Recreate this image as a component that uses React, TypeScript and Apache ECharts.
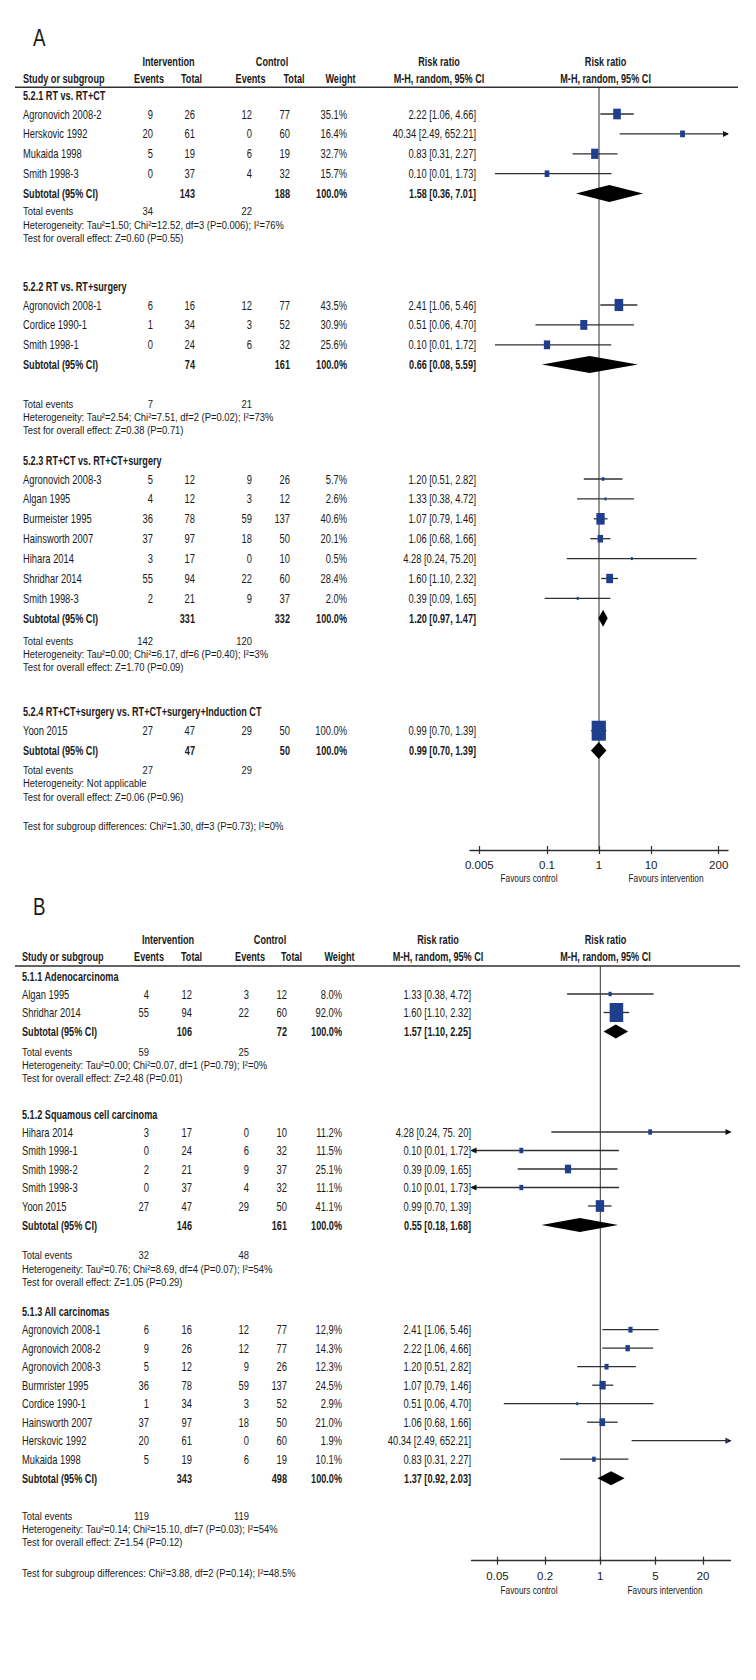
import React, { useEffect, useRef } from "react";
import * as echarts from "echarts";

const FONT = "'Liberation Sans', Arial, sans-serif";
const INK = "#1a1a1a";
const BLUE = "#1f3e8e";
const LINE = "#303030";

// ---------------- Panel A data ----------------
const A_groupTitles = [
  "5.2.1 RT vs. RT+CT",
  "5.2.2 RT vs. RT+surgery",
  "5.2.3 RT+CT vs. RT+CT+surgery",
  "5.2.4 RT+CT+surgery vs. RT+CT+surgery+Induction CT",
];
const A_studyGroup = [0, 0, 0, 0, 1, 1, 1, 2, 2, 2, 2, 2, 2, 2, 3];
const A_studies = [
  "Agronovich 2008-2", "Herskovic 1992", "Mukaida 1998", "Smith 1998-3",
  "Agronovich 2008-1", "Cordice 1990-1", "Smith 1998-1",
  "Agronovich 2008-3", "Algan 1995", "Burmeister 1995", "Hainsworth 2007", "Hihara 2014", "Shridhar 2014", "Smith 1998-3",
  "Yoon 2015",
];
const A_intEvents = [9, 20, 5, 0, 6, 1, 0, 5, 4, 36, 37, 3, 55, 2, 27];
const A_intTotal = [26, 61, 19, 37, 16, 34, 24, 12, 12, 78, 97, 17, 94, 21, 47];
const A_ctlEvents = [12, 0, 6, 4, 12, 3, 6, 9, 3, 59, 18, 0, 22, 9, 29];
const A_ctlTotal = [77, 60, 19, 32, 77, 52, 32, 26, 12, 137, 50, 10, 60, 37, 50];
const A_weight = ["35.1%", "16.4%", "32.7%", "15.7%", "43.5%", "30.9%", "25.6%", "5.7%", "2.6%", "40.6%", "20.1%", "0.5%", "28.4%", "2.0%", "100.0%"];
const A_rr = [2.22, 40.34, 0.83, 0.10, 2.41, 0.51, 0.10, 1.20, 1.33, 1.07, 1.06, 4.28, 1.60, 0.39, 0.99];
const A_lo = [1.06, 2.49, 0.31, 0.01, 1.06, 0.06, 0.01, 0.51, 0.38, 0.79, 0.68, 0.24, 1.10, 0.09, 0.70];
const A_hi = [4.66, 652.21, 2.27, 1.73, 5.46, 4.70, 1.72, 2.82, 4.72, 1.46, 1.66, 75.20, 2.32, 1.65, 1.39];
const A_ciText = [
  "2.22 [1.06, 4.66]", "40.34 [2.49, 652.21]", "0.83 [0.31, 2.27]", "0.10 [0.01, 1.73]",
  "2.41 [1.06, 5.46]", "0.51 [0.06, 4.70]", "0.10 [0.01, 1.72]",
  "1.20 [0.51, 2.82]", "1.33 [0.38, 4.72]", "1.07 [0.79, 1.46]", "1.06 [0.68, 1.66]", "4.28 [0.24, 75.20]", "1.60 [1.10, 2.32]", "0.39 [0.09, 1.65]",
  "0.99 [0.70, 1.39]",
];
const A_subIntTotal = [143, 74, 331, 47];
const A_subCtlTotal = [188, 161, 332, 50];
const A_subRR = [1.58, 0.66, 1.20, 0.99];
const A_subLo = [0.36, 0.08, 0.97, 0.70];
const A_subHi = [7.01, 5.59, 1.47, 1.39];
const A_subText = ["1.58 [0.36, 7.01]", "0.66 [0.08, 5.59]", "1.20 [0.97, 1.47]", "0.99 [0.70, 1.39]"];
const A_totIntEvents = [34, 7, 142, 27];
const A_totCtlEvents = [22, 21, 120, 29];
const A_het = [
  "Heterogeneity: Tau²=1.50; Chi²=12.52, df=3 (P=0.006); I²=76%",
  "Heterogeneity: Tau²=2.54; Chi²=7.51, df=2 (P=0.02); I²=73%",
  "Heterogeneity: Tau²=0.00; Chi²=6.17, df=6 (P=0.40); I²=3%",
  "Heterogeneity: Not applicable",
];
const A_overall = [
  "Test for overall effect: Z=0.60 (P=0.55)",
  "Test for overall effect: Z=0.38 (P=0.71)",
  "Test for overall effect: Z=1.70 (P=0.09)",
  "Test for overall effect: Z=0.06 (P=0.96)",
];
const A_subgroupDiff = "Test for subgroup differences: Chi²=1.30, df=3 (P=0.73); I²=0%";
const A_ticks = [0.005, 0.1, 1, 10, 200];

// ---------------- Panel B data ----------------
const B_groupTitles = ["5.1.1 Adenocarcinoma", "5.1.2 Squamous cell carcinoma", "5.1.3 All carcinomas"];
const B_studyGroup = [0, 0, 1, 1, 1, 1, 1, 2, 2, 2, 2, 2, 2, 2, 2];
const B_studies = [
  "Algan 1995", "Shridhar 2014",
  "Hihara 2014", "Smith 1998-1", "Smith 1998-2", "Smith 1998-3", "Yoon 2015",
  "Agronovich 2008-1", "Agronovich 2008-2", "Agronovich 2008-3", "Burmrister 1995", "Cordice 1990-1", "Hainsworth 2007", "Herskovic 1992", "Mukaida 1998",
];
const B_intEvents = [4, 55, 3, 0, 2, 0, 27, 6, 9, 5, 36, 1, 37, 20, 5];
const B_intTotal = [12, 94, 17, 24, 21, 37, 47, 16, 26, 12, 78, 34, 97, 61, 19];
const B_ctlEvents = [3, 22, 0, 6, 9, 4, 29, 12, 12, 9, 59, 3, 18, 0, 6];
const B_ctlTotal = [12, 60, 10, 32, 37, 32, 50, 77, 77, 26, 137, 52, 50, 60, 19];
const B_weight = ["8.0%", "92.0%", "11.2%", "11.5%", "25.1%", "11.1%", "41.1%", "12,9%", "14.3%", "12.3%", "24.5%", "2.9%", "21.0%", "1.9%", "10.1%"];
const B_rr = [1.33, 1.60, 4.28, 0.10, 0.39, 0.10, 0.99, 2.41, 2.22, 1.20, 1.07, 0.51, 1.06, 40.34, 0.83];
const B_lo = [0.38, 1.10, 0.24, 0.01, 0.09, 0.01, 0.70, 1.06, 1.06, 0.51, 0.79, 0.06, 0.68, 2.49, 0.31];
const B_hi = [4.72, 2.32, 75.20, 1.72, 1.65, 1.73, 1.39, 5.46, 4.66, 2.82, 1.46, 4.70, 1.66, 652.21, 2.27];
const B_ciText = [
  "1.33 [0.38, 4.72]", "1.60 [1.10, 2.32]",
  "4.28 [0.24, 75. 20]", "0.10 [0.01, 1.72]", "0.39 [0.09, 1.65]", "0.10 [0.01, 1.73]", "0.99 [0.70, 1.39]",
  "2.41 [1.06, 5.46]", "2.22 [1.06, 4.66]", "1.20 [0.51, 2.82]", "1.07 [0.79, 1.46]", "0.51 [0.06, 4.70]", "1.06 [0.68, 1.66]", "40.34 [2.49, 652.21]", "0.83 [0.31, 2.27]",
];
const B_subIntTotal = [106, 146, 343];
const B_subCtlTotal = [72, 161, 498];
const B_subRR = [1.57, 0.55, 1.37];
const B_subLo = [1.10, 0.18, 0.92];
const B_subHi = [2.25, 1.68, 2.03];
const B_subText = ["1.57 [1.10, 2.25]", "0.55 [0.18, 1.68]", "1.37 [0.92, 2.03]"];
const B_totIntEvents = [59, 32, 119];
const B_totCtlEvents = [25, 48, 119];
const B_het = [
  "Heterogeneity: Tau²=0.00; Chi²=0.07, df=1 (P=0.79); I²=0%",
  "Heterogeneity: Tau²=0.76; Chi²=8.69, df=4 (P=0.07); I²=54%",
  "Heterogeneity: Tau²=0.14; Chi²=15.10, df=7 (P=0.03); I²=54%",
];
const B_overall = [
  "Test for overall effect: Z=2.48 (P=0.01)",
  "Test for overall effect: Z=1.05 (P=0.29)",
  "Test for overall effect: Z=1.54 (P=0.12)",
];
const B_subgroupDiff = "Test for subgroup differences: Chi²=3.88, df=2 (P=0.14); I²=48.5%";
const B_ticks = [0.05, 0.2, 1, 5, 20];

// ---------------- layout ----------------
const PANEL_A = {
  letter: "A", letterY: 37.7, headY1: 61.7, headY2: 78.3, lineY: 87.3, lineEnd: 738, axisY: 850,
  axMin: 0.00331, axMax: 302, gridLeft: 470, gridWidth: 258,
  titleY: [95, 286, 460, 711.7], firstOff: 19, step: 19.9, subStep: 19.8, teGap: [17.4, 38.6, 22.3, 19.3], statStep: 13.3,
  diffY: 826, favY: 878, favX: [529, 666], diamondH: 17,
  cols: { name: 23, intEv: 153, intTot: 195, ctlEv: 252, ctlTot: 290, weight: 347, ci: 476 },
  head: { interv: 168.5, control: 272, rr1: 439, rr2: 605.6, ev1: 149, tot1: 191.5, ev2: 250.5, tot2: 294, weight: 340.5 },
  groups: A_groupTitles, group: A_studyGroup, studies: A_studies, intEv: A_intEvents, intTot: A_intTotal,
  ctlEv: A_ctlEvents, ctlTot: A_ctlTotal, weight: A_weight, rr: A_rr, lo: A_lo, hi: A_hi, ciText: A_ciText,
  subInt: A_subIntTotal, subCtl: A_subCtlTotal, subRR: A_subRR, subLo: A_subLo, subHi: A_subHi, subText: A_subText,
  teInt: A_totIntEvents, teCtl: A_totCtlEvents, het: A_het, overall: A_overall, diff: A_subgroupDiff, ticks: A_ticks,
};
const PANEL_B = {
  letter: "B", letterY: 906.7, headY1: 939, headY2: 956.3, lineY: 966, lineEnd: 740, axisY: 1560.7,
  axMin: 0.0234, axMax: 44.5, gridLeft: 471.5, gridWidth: 259,
  titleY: [976, 1114, 1311.7], firstOff: 18, step: 18.5, subStep: 19, teGap: [20, 30, 37], statStep: 13.3,
  diffY: 1572.3, favY: 1590, favX: [529, 665], diamondH: 14,
  cols: { name: 22, intEv: 149, intTot: 192, ctlEv: 249, ctlTot: 287, weight: 342, ci: 471 },
  head: { interv: 168, control: 270, rr1: 438, rr2: 605.5, ev1: 149, tot1: 191.5, ev2: 250, tot2: 291.5, weight: 339.5 },
  groups: B_groupTitles, group: B_studyGroup, studies: B_studies, intEv: B_intEvents, intTot: B_intTotal,
  ctlEv: B_ctlEvents, ctlTot: B_ctlTotal, weight: B_weight, rr: B_rr, lo: B_lo, hi: B_hi, ciText: B_ciText,
  subInt: B_subIntTotal, subCtl: B_subCtlTotal, subRR: B_subRR, subLo: B_subLo, subHi: B_subHi, subText: B_subText,
  teInt: B_totIntEvents, teCtl: B_totCtlEvents, het: B_het, overall: B_overall, diff: B_subgroupDiff, ticks: B_ticks,
};

// condensed look: regular font compressed horizontally
function txt(x: number, y: number, s: string, o: any = {}) {
  const align = o.align || "left";
  const size = o.size || (o.bold ? 12.5 : 13);
  const sx = o.sx || (o.bold ? 0.73 : 0.72);
  return {
    type: "text", x, y, scaleX: sx, scaleY: 1, silent: true, z: 10,
    style: {
      text: s, fill: INK, fontFamily: FONT, fontSize: size, fontWeight: o.bold ? "bold" : "normal",
      textAlign: align, align, textVerticalAlign: "middle", verticalAlign: "middle",
    },
  };
}
const STAT = { size: 11.5, sx: 0.82 };

function buildOption() {
  const panels = [PANEL_A, PANEL_B];
  const graphics: any[] = [];
  const grids: any[] = [];
  const xAxes: any[] = [];
  const yAxes: any[] = [];
  const series: any[] = [];

  panels.forEach((p: any, gi: number) => {
    const H = p.axisY - p.lineY;
    grids.push({ left: p.gridLeft, top: p.lineY, width: p.gridWidth, height: H });
    const fmt = (v: number) => {
      const t = p.ticks.find((t: number) => Math.abs(Math.log10(t) - Math.log10(v)) < 1e-6);
      return t !== undefined ? String(t) : "";
    };
    const mkX = (inside: boolean) => ({
      type: "log", logBase: 10, gridIndex: gi, min: p.axMin, max: p.axMax, position: "bottom",
      axisLine: { show: !inside, onZero: false, lineStyle: { color: LINE, width: 1.3 } },
      axisTick: { show: true, inside, length: 4, customValues: p.ticks, lineStyle: { color: LINE, width: 1.2 } },
      axisLabel: { show: !inside, customValues: p.ticks, formatter: fmt, margin: 9, fontSize: 11.5, color: INK, fontFamily: FONT },
      splitLine: { show: false }, minorTick: { show: false }, minorSplitLine: { show: false },
    });
    xAxes.push(mkX(false));
    xAxes.push(mkX(true));
    yAxes.push({ type: "value", gridIndex: gi, min: 0, max: H, inverse: true, show: false });

    // headers
    graphics.push(txt(33, p.letterY, p.letter, { size: 24, sx: 0.78 }));
    const h = p.head;
    graphics.push(txt(h.interv, p.headY1, "Intervention", { bold: true, align: "center" }));
    graphics.push(txt(h.control, p.headY1, "Control", { bold: true, align: "center" }));
    graphics.push(txt(h.rr1, p.headY1, "Risk ratio", { bold: true, align: "center" }));
    graphics.push(txt(h.rr2, p.headY1, "Risk ratio", { bold: true, align: "center" }));
    graphics.push(txt(p.cols.name, p.headY2, "Study or subgroup", { bold: true }));
    graphics.push(txt(h.ev1, p.headY2, "Events", { bold: true, align: "center" }));
    graphics.push(txt(h.tot1, p.headY2, "Total", { bold: true, align: "center" }));
    graphics.push(txt(h.ev2, p.headY2, "Events", { bold: true, align: "center" }));
    graphics.push(txt(h.tot2, p.headY2, "Total", { bold: true, align: "center" }));
    graphics.push(txt(h.weight, p.headY2, "Weight", { bold: true, align: "center" }));
    graphics.push(txt(h.rr1, p.headY2, "M-H, random, 95% CI", { bold: true, align: "center" }));
    graphics.push(txt(h.rr2, p.headY2, "M-H, random, 95% CI", { bold: true, align: "center" }));
    graphics.push({
      type: "line", silent: true, z: 10,
      shape: { x1: 15, y1: p.lineY, x2: p.lineEnd, y2: p.lineY },
      style: { stroke: LINE, lineWidth: 1.5 },
    });

    const c = p.cols;
    const studyData: any[] = [];
    const diamondData: any[] = [];
    p.groups.forEach((title: string, g: number) => {
      const ty = p.titleY[g];
      graphics.push(txt(c.name, ty, title, { bold: true }));
      const idx = p.group.map((gg: number, i: number) => (gg === g ? i : -1)).filter((i: number) => i >= 0);
      idx.forEach((i: number, k: number) => {
        const yy = ty + p.firstOff + k * p.step;
        graphics.push(txt(c.name, yy, p.studies[i]));
        graphics.push(txt(c.intEv, yy, String(p.intEv[i]), { align: "right" }));
        graphics.push(txt(c.intTot, yy, String(p.intTot[i]), { align: "right" }));
        graphics.push(txt(c.ctlEv, yy, String(p.ctlEv[i]), { align: "right" }));
        graphics.push(txt(c.ctlTot, yy, String(p.ctlTot[i]), { align: "right" }));
        graphics.push(txt(c.weight, yy, p.weight[i], { align: "right" }));
        graphics.push(txt(c.ci, yy, p.ciText[i], { align: "right" }));
        studyData.push([p.rr[i], p.lo[i], p.hi[i], yy - p.lineY, parseFloat(p.weight[i].replace(",", "."))]);
      });
      const sy = ty + p.firstOff + (idx.length - 1) * p.step + p.subStep;
      graphics.push(txt(c.name, sy, "Subtotal (95% CI)", { bold: true }));
      graphics.push(txt(c.intTot, sy, String(p.subInt[g]), { bold: true, align: "right" }));
      graphics.push(txt(c.ctlTot, sy, String(p.subCtl[g]), { bold: true, align: "right" }));
      graphics.push(txt(c.weight, sy, "100.0%", { bold: true, align: "right" }));
      graphics.push(txt(c.ci, sy, p.subText[g], { bold: true, align: "right" }));
      diamondData.push([p.subRR[g], p.subLo[g], p.subHi[g], sy - p.lineY]);
      const te = sy + p.teGap[g];
      graphics.push(txt(c.name, te, "Total events", STAT));
      graphics.push(txt(c.intEv, te, String(p.teInt[g]), { ...STAT, align: "right" }));
      graphics.push(txt(c.ctlEv, te, String(p.teCtl[g]), { ...STAT, align: "right" }));
      graphics.push(txt(c.name, te + p.statStep, p.het[g], STAT));
      graphics.push(txt(c.name, te + 2 * p.statStep, p.overall[g], STAT));
    });
    graphics.push(txt(c.name, p.diffY, p.diff, STAT));
    graphics.push(txt(p.favX[0], p.favY, "Favours control", { size: 11.5, sx: 0.72, align: "center" }));
    graphics.push(txt(p.favX[1], p.favY, "Favours intervention", { size: 11.5, sx: 0.72, align: "center" }));

    series.push({
      type: "line", xAxisIndex: gi * 2, yAxisIndex: gi, data: [[1, 0], [1, H]], symbol: "none",
      lineStyle: { color: LINE, width: 1 }, silent: true, z: 1,
    });
    series.push({
      type: "custom", xAxisIndex: gi * 2, yAxisIndex: gi, data: studyData, silent: true, z: 3, clip: false,
      encode: { x: 0, y: 3 },
      renderItem: (params: any, api: any) => {
        const rr = api.value(0), lo = api.value(1), hi = api.value(2), yv = api.value(3), wt = api.value(4);
        const a = api.coord([Math.max(lo, p.axMin), yv]);
        const b = api.coord([Math.min(hi, p.axMax), yv]);
        const m = api.coord([rr, yv]);
        const w = Math.max(2, 0.9 * Math.pow(wt, 0.6));
        const hh = Math.max(3, 1.4 * w);
        const ch: any[] = [
          { type: "line", shape: { x1: a[0], y1: a[1], x2: b[0], y2: b[1] }, style: { stroke: LINE, lineWidth: 1.3 } },
        ];
        if (hi > p.axMax) ch.push({ type: "polygon", shape: { points: [[b[0] + 1, b[1]], [b[0] - 5, b[1] - 3], [b[0] - 5, b[1] + 3]] }, style: { fill: "#111" } });
        if (lo < p.axMin) ch.push({ type: "polygon", shape: { points: [[a[0] - 1, a[1]], [a[0] + 5, a[1] - 3], [a[0] + 5, a[1] + 3]] }, style: { fill: "#111" } });
        ch.push({ type: "rect", shape: { x: m[0] - w / 2, y: m[1] - hh / 2, width: w, height: hh }, style: { fill: BLUE } });
        return { type: "group", children: ch };
      },
    });
    series.push({
      type: "custom", xAxisIndex: gi * 2, yAxisIndex: gi, data: diamondData, silent: true, z: 4, clip: false,
      encode: { x: 0, y: 3 },
      renderItem: (params: any, api: any) => {
        const yv = api.value(3);
        const l = api.coord([api.value(1), yv]);
        const r = api.coord([api.value(2), yv]);
        const m = api.coord([api.value(0), yv]);
        const hd = p.diamondH / 2;
        return {
          type: "polygon",
          shape: { points: [[l[0], l[1]], [m[0], m[1] - hd], [r[0], r[1]], [m[0], m[1] + hd]] },
          style: { fill: "#000" },
        };
      },
    });
  });

  return {
    animation: false,
    backgroundColor: "#fff",
    grid: grids,
    xAxis: xAxes,
    yAxis: yAxes,
    series,
    graphic: { elements: graphics },
  };
}

export default function App() {
  const ref = useRef<HTMLDivElement>(null);
  useEffect(() => {
    const chart = echarts.init(ref.current as HTMLDivElement, null, { renderer: "svg" });
    chart.setOption(buildOption() as any);
    return () => chart.dispose();
  }, []);
  return (
    <div
      ref={ref}
      style={{ position: "absolute", left: 0, top: 0, width: 756, height: 1680, background: "#fff" }}
    />
  );
}
